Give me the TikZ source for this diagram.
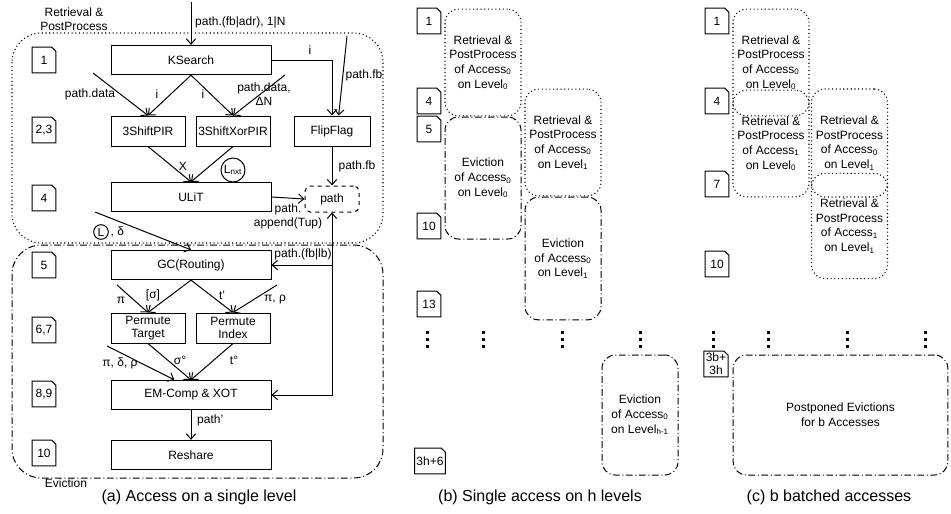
\documentclass[tikz,border=0pt]{standalone}
\usepackage{fontspec}
\setmainfont{Liberation Sans}
\usetikzlibrary{arrows.meta,positioning}

\tikzset{
  >={Straight Barb[length=4pt,width=7pt]},
  rpline/.style={dotted, line width=0.8pt},
  evline/.style={line width=0.75pt, dash pattern=on 5pt off 2pt on 0.75pt off 2pt},
  wide/.style={draw, minimum width=120pt, minimum height=22pt, inner sep=1pt},
  narrow/.style={draw, minimum width=55.5pt, minimum height=22.5pt, inner sep=1pt, align=center, font=\fontsize{9}{10}\selectfont},
  pathbox/.style={draw, dashed, rounded corners=4pt, minimum width=40.5pt, minimum height=19.5pt},
  lbl/.style={inner sep=0.5pt, align=center, font=\fontsize{9}{10.5}\selectfont},
  ring/.style={draw, circle, inner sep=0pt},
  cardtxt/.style={minimum width=17pt, minimum height=18.5pt, inner sep=1pt, align=center, font=\fontsize{9}{9.5}\selectfont},
  rpbox/.style={draw, rpline, rounded corners=10pt, minimum width=57pt, align=center, inner sep=1pt, font=\fontsize{9}{11}\selectfont},
  evbox/.style={rpbox, evline},
  caption/.style={font=\fontsize{12}{14}\selectfont},
}

% step number card with folded corner
\newcommand{\stepcard}[3]{%
  \node[cardtxt] (#1) at (#2) {#3};
  \draw (#1.south west) -- (#1.north west) -- ([xshift=-3pt]#1.north east)
    -- ([yshift=-3pt]#1.north east) -- (#1.south east) -- cycle;
}
\newcommand{\rptext}[2]{Retrieval \&\\PostProcess\\of Access\textsubscript{#1}\\on Level\textsubscript{#2}}
\newcommand{\evtext}[2]{Eviction\\of Access\textsubscript{#1}\\on Level\textsubscript{#2}}

\begin{document}
\begin{tikzpicture}[x=0.75pt,y=-0.75pt,line width=0.75pt,font=\fontsize{9}{10.5}\selectfont]
\useasboundingbox (0,0) rectangle (951,514);

% (a) access on a single level
\draw[rpline, rounded corners=22pt] (12,33) rectangle (383,243);
\draw[evline, rounded corners=22pt] (12,245) rectangle (383,478);
\node[lbl] (rplbl) at (74,19) {Retrieval \&\\PostProcess};
\node[lbl] (evlbl) at (66,483) {Eviction};

\stepcard{sa1}{44,60}{1}
\stepcard{sa23}{44,130}{2,3}
\stepcard{sa4}{44,198}{4}
\stepcard{sa5}{44,265}{5}
\stepcard{sa67}{44,330}{6,7}
\stepcard{sa89}{44,394}{8,9}
\stepcard{sa10}{44,453}{10}

\node[wide] (ks) at (191,60) {KSearch};
\node[narrow] (p3) at (148,131) {3ShiftPIR};
\node[narrow] (px) at (233,131) {3ShiftXorPIR};
\node[narrow, minimum width=57pt] (ff) at (332,131) {FlipFlag};
\node[wide] (ul) at (191,197) {ULiT};
\node[pathbox] (pa) at (332,199) {path};
\node[wide] (gc) at (191,265) {GC(Routing)};
\node[narrow] (pt) at (148,328) {Permute\\Target};
\node[narrow] (pmi) at (233,328) {Permute\\Index};
\node[wide] (em) at (191,395) {EM-Comp \& XOT};
\node[wide] (rs) at (191,455) {Reshare};

\coordinate (kin) at (191,2);
\draw[->] (kin) -- (ks.north);
\node[lbl, anchor=west] (kinl) at (194,22) {path.(fb|adr), 1|N};
\draw[->] (ks.east) -| (ff.north);
\node[lbl] (il) at (310,50) {i};
\coordinate (fbin) at (347,36);
\draw[->] (fbin) -- ([xshift=5pt]ff.north);
\node[lbl] (fbl) at (364,75) {path.fb};

\coordinate (pdin) at (93,73);
\draw[->] (pdin) -- (p3.north);
\node[lbl] (pdl) at (90,94) {path.data};
\draw[->] (ks.south) -- (p3.north);
\draw[->] (ks.south) -- (px.north);
\node[lbl] (i3l) at (157,94) {i};
\node[lbl] (ixl) at (203,94) {i};
\coordinate (pdnin) at (285,75);
\draw[->] (pdnin) -- (px.north);
\node[lbl] (pdnl) at (264,94) {path.data,\\ΔN};

\draw[->] (p3.south) -- (ul.north);
\draw[->] (px.south) -- (ul.north);
\node[lbl] (xl) at (183,166) {X};
\node[ring, minimum size=18pt] (lnxt) at (233,170) {L\textsubscript{nxt}};
\draw[->] (ff.south) -- (pa.north);
\node[lbl] (fb2l) at (357,166) {path.fb};
\draw[->] (ul.east) -- (pa.west);
\node[lbl] (appl) at (288,216) {path.\\append(Tup)};

\coordinate (lin) at (95,212);
\draw[->] (lin) -- (gc.north);
\node[ring, minimum size=11pt] (lcirc) at (101,232) {L};
\node[lbl, right=0.5pt of lcirc] (dl) {, δ};

\draw[<->] (pa.south) |- (em.east);
\coordinate (gcj) at (332,265);
\draw[->] (gcj) -- (gc.east);
\node[lbl] (fblbl) at (303,254) {path.(fb|lb)};

\draw[->] (gc.south) -- (pt.north);
\draw[->] (gc.south) -- (pmi.north);
\node[lbl] (sgl) at (153,295) {[σ]};
\node[lbl] (tpl) at (222,295) {t'};
\coordinate (piin) at (117,285);
\draw[->] (piin) -- (pt.north);
\node[lbl] (pil) at (121,300) {π};
\coordinate (pirin) at (277,285);
\draw[->] (pirin) -- (pmi.north);
\node[lbl] (pirl) at (275,300) {π, ρ};

\draw[->] (pt.south) -- (em.north);
\draw[->] (pmi.south) -- (em.north);
\node[lbl] (sol) at (180,360) {σ°};
\node[lbl] (tol) at (234,360) {t°};
\coordinate (pdrin) at (107,346);
\draw[->] (pdrin) -- ([xshift=-12.5pt]em.north);
\node[lbl] (pdrl) at (120,363) {π, δ, ρ};
\draw[->] (em.south) -- (rs.north);
\node[lbl, anchor=west] (ppl) at (196,420) {path'};

\node[caption] (capa) at (199,497) {(a) Access on a single level};

% (b) single access on h levels
\stepcard{sb1}{429,21}{1}
\stepcard{sb4}{429,101}{4}
\stepcard{sb5}{429,129}{5}
\stepcard{sb10}{429,226}{10}
\stepcard{sb13}{429,304}{13}
\stepcard{sb3h}{430,461}{3h+6}

\node[rpbox, minimum height=80pt] (rp00b) at (483,62.5) {\rptext{0}{0}};
\node[evbox, minimum height=91.5pt] (ev00b) at (483,178) {\evtext{0}{0}};
\node[rpbox, minimum height=80pt] (rp01b) at (563,142.5) {\rptext{0}{1}};
\node[evbox, minimum height=92pt] (ev01b) at (563,258.5) {\evtext{0}{1}};
\node[evbox, minimum height=90pt] (ev0hb) at (640,415) {\evtext{0}{h-1}};

\node[caption] (capb) at (540,497) {(b) Single access on h levels};

% (c) b batched accesses
\stepcard{sc1}{717,21}{1}
\stepcard{sc4}{717,101}{4}
\stepcard{sc7}{717,184}{7}
\stepcard{sc10}{717,264}{10}
\stepcard{sc3b}{716,364}{3b+\\3h}

\node[rpbox, minimum height=80pt] (rp00c) at (771,62.5) {\rptext{0}{0}};
\node[rpbox, minimum height=80pt] (rp10c) at (771,143.5) {\rptext{1}{0}};
\node[rpbox, minimum height=81pt] (rp01c) at (849.5,143) {\rptext{0}{1}};
\node[rpbox, minimum height=79pt] (rp11c) at (849.5,226) {\rptext{1}{1}};
\node[evbox, minimum width=161pt, minimum height=90pt] (ppc) at (840.5,415) {Postponed Evictions\\for b Accesses};

\node[caption] (capc) at (829,497) {(c) b batched accesses};

% vertical dots
\foreach \x in {427,483,562,640,713,768,847,925}
  \foreach \y in {332,339,346}
    \fill (\x-1.5,\y-1.5) rectangle (\x+1.5,\y+1.5);
\end{tikzpicture}
\end{document}
